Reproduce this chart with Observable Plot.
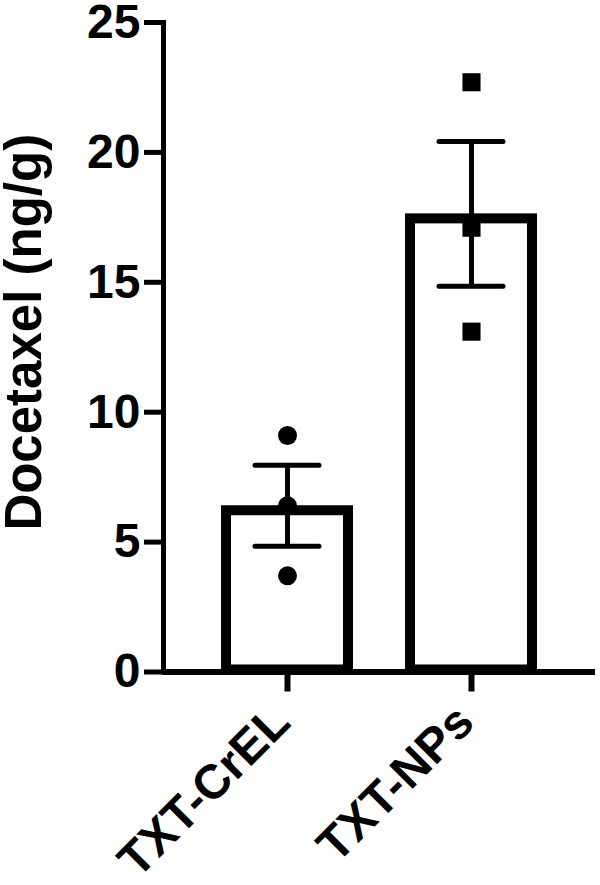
<!DOCTYPE html>
<html><head><meta charset="utf-8">
<script src="https://cdn.jsdelivr.net/npm/d3@7"></script>
<script src="https://cdn.jsdelivr.net/npm/@observablehq/plot@0.6"></script>
<style>body{margin:0;background:#fff}</style>
</head><body><div id="chart"></div>
<script>
const groups = ["TXT-CrEL", "TXT-NPs"];
const crelValues = [9.1, 6.4, 3.7];
const npsValues = [22.7, 17.1, 13.1];
const yTicks = [0, 5, 10, 15, 20, 25];
const yLabel = "Docetaxel (ng/g)";

const points = [
  ...crelValues.map(v => ({group: groups[0], value: v})),
  ...npsValues.map(v => ({group: groups[1], value: v}))
];
const summary = groups.map(g => {
  const v = points.filter(p => p.group === g).map(p => p.value);
  const m = d3.mean(v);
  const sem = d3.deviation(v) / Math.sqrt(v.length);
  return {group: g, mean: m, lo: m - sem, hi: m + sem};
});

const chart = Plot.plot({
  width: 600, height: 885,
  marginLeft: 163, marginRight: 5, marginTop: 22, marginBottom: 213.5,
  style: {fontFamily: "'Liberation Sans', Arial, sans-serif", fontWeight: "bold", fontSize: "48px", color: "#000", background: "#fff", overflow: "visible"},
  x: {domain: groups, paddingInner: 0.28, paddingOuter: 0.31, label: null},
  y: {domain: [0, 25], label: null},
  marks: [
    Plot.barY(summary, {x: "group", y: "mean", fill: "white", stroke: "black", strokeWidth: 10, insetTop: 5, insetLeft: 5, insetRight: 5, insetBottom: 2}),
    Plot.ruleX(summary, {x: "group", y1: "lo", y2: "hi", stroke: "black", strokeWidth: 5}),
    Plot.tickY(summary, {x: "group", y: "lo", insetLeft: 34, insetRight: 34, stroke: "black", strokeWidth: 5, strokeLinecap: "round"}),
    Plot.tickY(summary, {x: "group", y: "hi", insetLeft: 34, insetRight: 34, stroke: "black", strokeWidth: 5, strokeLinecap: "round"}),
    Plot.dot(points.filter(p => p.group === groups[0]), {x: "group", y: "value", symbol: "circle", r: 9.5, fill: "black"}),
    Plot.dot(points.filter(p => p.group === groups[1]), {x: "group", y: "value", symbol: "square", r: 10.2, fill: "black"}),
    Plot.ruleY([0], {stroke: "black", strokeWidth: 6}),
    Plot.frame({anchor: "left", stroke: "black", strokeWidth: 5}),
    Plot.axisY({ticks: yTicks, tickSize: 19, tickPadding: 4, stroke: "black", strokeWidth: 5, fontSize: 48, fontWeight: "bold", label: null}),
    Plot.axisX({tickSize: 20, tickFormat: () => "", stroke: "black", strokeWidth: 6, label: null}),
    Plot.axisX({tickSize: 0, tickRotate: -45, tickPadding: 42, dx: -6, fontSize: 48, fontWeight: "bold", label: null}),
    Plot.text([yLabel], {text: d => d, frameAnchor: "left", textAnchor: "middle", rotate: -90, dx: -139, dy: -15, fontSize: 51, fontWeight: "bold", fill: "black"})
  ]
});
document.getElementById("chart").append(chart);
</script>
</body></html>
